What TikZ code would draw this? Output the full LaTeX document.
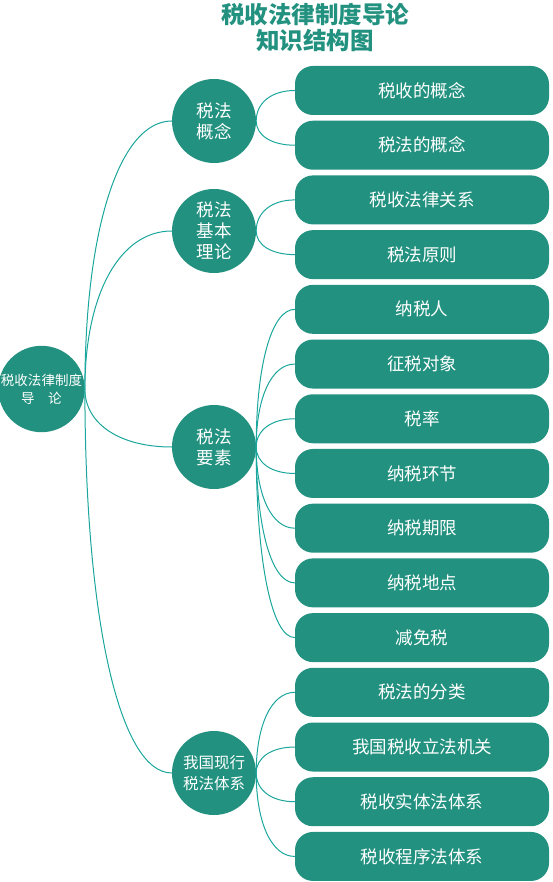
\documentclass[tikz,border=0pt]{standalone}
\usepackage{fontspec}
\setmainfont{Noto Sans CJK SC}
\usetikzlibrary{calc}
\definecolor{fillc}{HTML}{22917F}
\definecolor{linec}{HTML}{1AA69C}
\tikzset{
  l1/.style={circle, fill=fillc, text=white, minimum size=84pt, inner sep=0pt, align=center,
    font=\fontsize{17.5}{21}\selectfont},
  leaf/.style={rectangle, rounded corners=18pt, fill=fillc, text=white, minimum width=254pt,
    minimum height=49pt, inner sep=0pt, font=\fontsize{17.5}{20}\selectfont},
  conn/.style={draw=linec, line width=1pt},
  ttl/.style={text=fillc, align=center, font=\bfseries\fontsize{23.5}{26}\selectfont}
}
\newcommand\linkto[2]{%
  \path (#1.east |- #2.west) coordinate (cc);
  \draw[conn] (#1.east) .. controls ($(#1.east)!0.6!(cc)$) and ($(#2.west)!0.6!(cc)$) .. (#2.west);}
\begin{document}
\begin{tikzpicture}[x=1pt,y=-1pt]
\useasboundingbox (0,0) rectangle (552,882);
\node[ttl] (title) at (315,27) {税收法律制度导论\\知识结构图};
\node[l1, minimum size=83pt, font=\fontsize{13.5}{18}\selectfont] (root) at (41.5,389) {税收法律制度\\导\hspace{1em}论};
\node[l1] (c1) at (214,121) {税法\\概念};
\node[l1] (c2) at (214,231) {税法\\基本\\理论};
\node[l1] (c3) at (214,447) {税法\\要素};
\node[l1, font=\fontsize{15.5}{21}\selectfont] (c4) at (214,773) {我国现行\\税法体系};
\foreach \i/\t in {1/税收的概念,2/税法的概念,3/税收法律关系,4/税法原则,5/纳税人,6/征税对象,7/税率,8/纳税环节,9/纳税期限,10/纳税地点,11/减免税,12/税法的分类,13/我国税收立法机关,14/税收实体法体系,15/税收程序法体系}{
  \node[leaf] (b\i) at (422,{90.5+54.71*(\i-1)}) {\t};
}
\linkto{root}{c1}
\linkto{root}{c2}
\linkto{root}{c3}
\linkto{root}{c4}
\linkto{c1}{b1}
\linkto{c1}{b2}
\linkto{c2}{b3}
\linkto{c2}{b4}
\foreach \i in {5,...,11}{\linkto{c3}{b\i}}
\foreach \i in {12,...,15}{\linkto{c4}{b\i}}
\end{tikzpicture}
\end{document}
